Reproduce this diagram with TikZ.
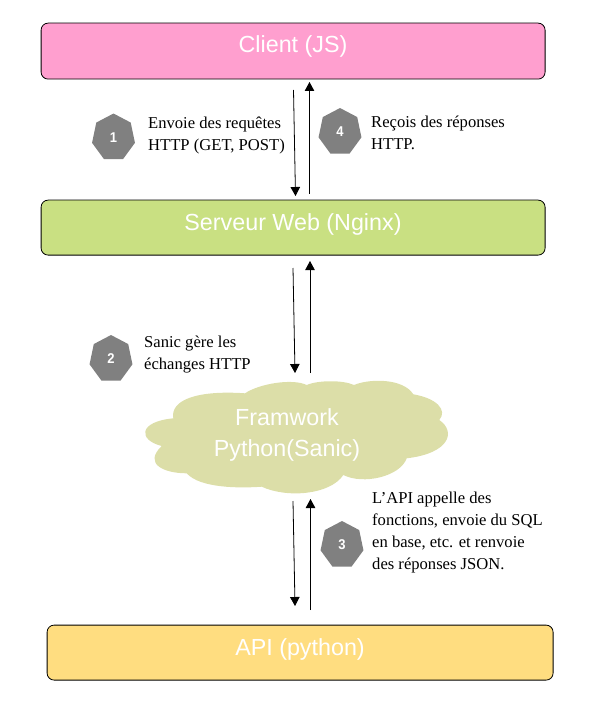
\documentclass[tikz,border=0pt]{standalone}
\usepackage{fontspec}
\setmainfont{Liberation Serif}
\newfontfamily\arialf{Liberation Sans}
\usetikzlibrary{shapes.geometric,arrows.meta}
\definecolor{clientc}{HTML}{FF9FCF}
\definecolor{webc}{HTML}{C9E082}
\definecolor{apic}{HTML}{FFDD80}
\definecolor{cloudc}{HTML}{DCDEA8}
\definecolor{badgec}{HTML}{808080}
\tikzset{
  x=1pt,y=-1pt,
  tier/.style={draw=black,line width=0.8pt,rounded corners=7pt,anchor=north west,inner sep=0pt},
  tiertext/.style={text=white,inner sep=0pt,font=\arialf\fontsize{23.3}{28}\selectfont},
  badge/.style={regular polygon,regular polygon sides=7,minimum size=44pt,yscale=1.09,transform shape,inner sep=0pt,outer sep=0pt,fill=badgec,text=white,font=\arialf\bfseries\fontsize{13}{15}\selectfont},
  note/.style={anchor=north west,inner sep=0pt,align=left,text=black,font=\fontsize{16.6}{22}\selectfont},
  flow/.style={line width=0.8pt,-{Triangle[length=9pt,width=9.5pt]}},
}
\begin{document}
\begin{tikzpicture}
\useasboundingbox (0,0) rectangle (599,711);
% tiers
\node[tier,fill=clientc,minimum width=504pt,minimum height=56pt] (client) at (40.7,22.7) {};
\node[tiertext] (clientt) at (293,46) {Client (JS)};
\node[tier,fill=webc,minimum width=504pt,minimum height=55pt] (web) at (40.7,199.7) {};
\node[tiertext] (webt) at (293,224) {Serveur Web (Nginx)};
\node[tier,fill=apic,minimum width=506pt,minimum height=55pt] (api) at (46.7,624.7) {};
\node[tiertext] (apit) at (300,649) {API (python)};
% cloud
\fill[cloudc] (173.3,418.3)
  .. controls (170,400) and (197,390) .. (245,393.3)
  .. controls (260,383.3) and (293,378.3) .. (306.7,385)
  .. controls (318.3,380) and (343.3,380) .. (354,385)
  .. controls (370,378.3) and (403.3,378.3) .. (413.3,394.3)
  .. controls (436.7,398.3) and (447.7,410) .. (439.3,420)
  .. controls (456.3,431.7) and (449.7,453.3) .. (406.7,458.3)
  .. controls (400,476.7) and (363.3,485) .. (343.3,475)
  .. controls (330,495) and (286.7,498.3) .. (261.7,486.7)
  .. controls (240,488.3) and (200,488.3) .. (186.7,473.3)
  .. controls (164,473.3) and (143,464) .. (161.7,446)
  .. controls (138,440) and (138,421.7) .. (173.3,418.3) -- cycle;
\node[align=center,text=white,inner sep=0pt,font=\arialf\fontsize{23.3}{30.5}\selectfont] (cloud) at (287,435) {Framwork\\Python(Sanic)};
% connector ends
\coordinate (a1) at (293.5,90); \coordinate (a2) at (295.5,196);
\coordinate (b1) at (309.5,194); \coordinate (b2) at (309.5,82);
\coordinate (c1) at (293,268); \coordinate (c2) at (295,373);
\coordinate (d1) at (310,373); \coordinate (d2) at (310,261);
\coordinate (e1) at (293,501); \coordinate (e2) at (295,606);
\coordinate (f1) at (310.5,610); \coordinate (f2) at (310.5,499);
\draw[flow] (a1) -- (a2);
\draw[flow] (b1) -- (b2);
\draw[flow] (c1) -- (c2);
\draw[flow] (d1) -- (d2);
\draw[flow] (e1) -- (e2);
\draw[flow] (f1) -- (f2);
% badges
\node[badge] (n1) at (113.5,137.5) {1};
\node[badge] (n4) at (340,132) {4};
\node[badge] (n2) at (111,359) {2};
\node[badge] (n3) at (342,545) {3};
% notes
\node[note] (t1) at (148,116.5) {Envoie des requêtes\\HTTP (GET, POST)};
\node[note] (t4) at (371,115.5) {Reçois des réponses\\HTTP.};
\node[note] (t2) at (144,335.5) {Sanic gère les\\échanges HTTP};
\node[note] (t3) at (372,491.5) {L’API appelle des\\fonctions, envoie du SQL\\en base, etc. et renvoie\\des réponses JSON.};
\end{tikzpicture}
\end{document}
